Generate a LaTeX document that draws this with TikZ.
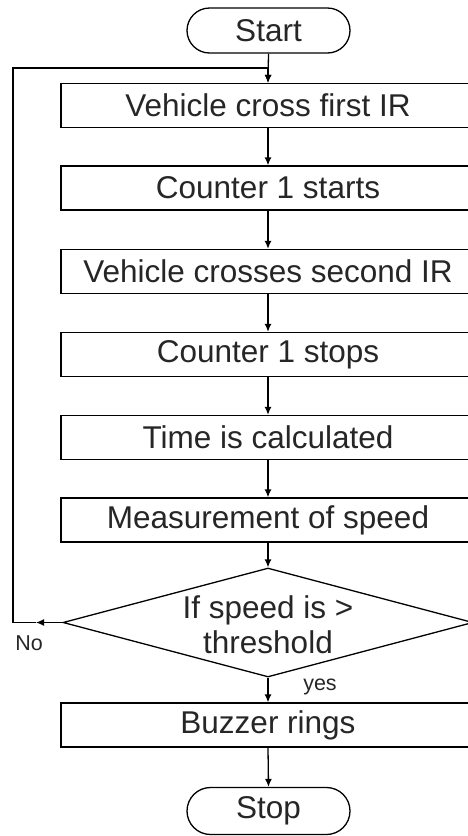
\documentclass[tikz,border=0pt]{standalone}
\usepackage{fontspec}
\setmainfont{Liberation Sans}
\usetikzlibrary{shapes.geometric,shapes.misc,arrows.meta}
\begin{document}
\begin{tikzpicture}[x=1pt,y=-1pt,
  every node/.style={font=\fontsize{31.5}{35}\selectfont, text=black!85},
  proc/.style={draw, line width=1.3pt, minimum width=414pt, minimum height=44pt, inner sep=0pt},
  term/.style={draw, rounded rectangle, line width=1.3pt, minimum width=163pt, minimum height=45pt, inner sep=0pt},
  dec/.style={draw, diamond, line width=1.3pt, minimum width=410pt, minimum height=109pt, inner sep=0pt},
  conn/.style={line width=1.3pt},
  flow/.style={conn, -{Latex[length=8pt,width=7pt]}},
  small/.style={font=\fontsize{21.5}{24}\selectfont}]
\useasboundingbox (0,0) rectangle (468,836);
\node[term] (start) at (268.5,30.5) {Start};
\node[proc] (b1) at (268,105.5) {Vehicle cross first IR};
\node[proc] (b2) at (268,188) {Counter 1 starts};
\node[proc] (b3) at (268,271.5) {Vehicle crosses second IR};
\node[proc] (b4) at (268,354.5) {Counter 1 stops};
\node[proc] (b5) at (268,437.5) {Time is calculated};
\node[proc] (b6) at (268,520) {Measurement of speed};
\node[dec] (d) at (268,622.5) {};
\node[align=center, font=\fontsize{31.5}{35}\selectfont] (dt) at (268,624.5) {If speed is >\\threshold};
\node[proc] (b7) at (268,725) {Buzzer rings};
\node[term, minimum height=47pt] (stop) at (268.5,811) {Stop};
\node[small] (no) at (29,643) {No};
\node[small] (yes) at (320,687) {yes};
\coordinate (na) at (36,622.5);
\coordinate (lc1) at (13,622.5);
\coordinate (lc2) at (13,68);
\draw[flow] (start.south) -- (b1.north);
\draw[flow] (b1.south) -- (b2.north);
\draw[flow] (b2.south) -- (b3.north);
\draw[flow] (b3.south) -- (b4.north);
\draw[flow] (b4.south) -- (b5.north);
\draw[flow] (b5.south) -- (b6.north);
\draw[flow] (b6.south) -- (d.north);
\draw[flow] (d.south) -- (b7.north);
\draw[flow] (b7.south) -- (stop.north);
\draw[flow] (d.west) -- (na);
\draw[flow] (na) -- (lc1) -- (lc2) -| (b1.north);
\end{tikzpicture}
\end{document}
